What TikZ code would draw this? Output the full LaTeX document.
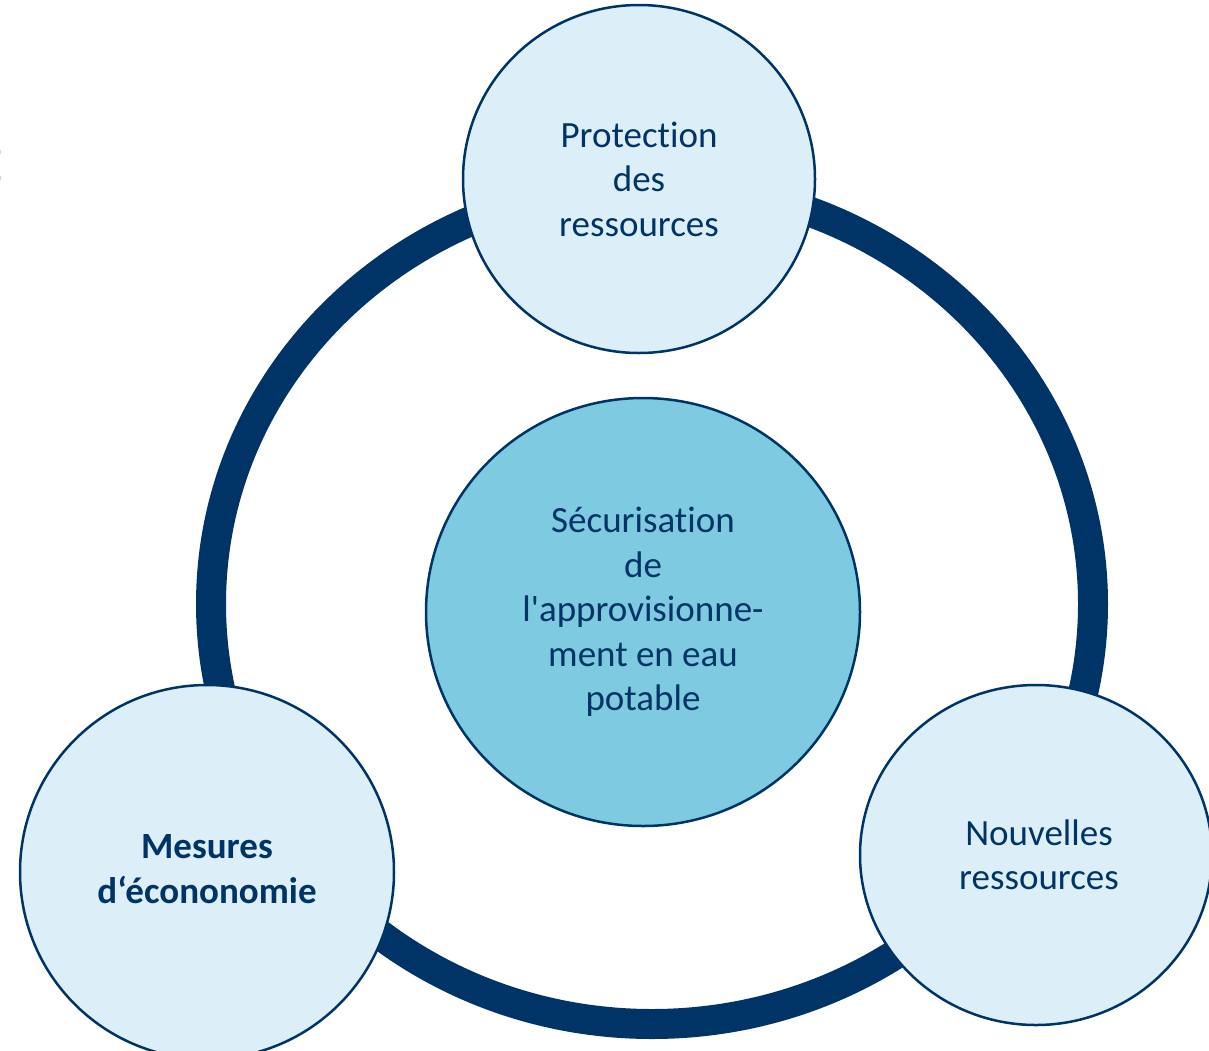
\documentclass[tikz,border=0pt]{standalone}
\usepackage{fontspec}
\setmainfont{Carlito}[Ligatures={TeXOff,NoCommon}]
\definecolor{navy}{HTML}{003466}
\definecolor{pale}{HTML}{DCEEF8}
\definecolor{midblue}{HTML}{7ECAE0}
\definecolor{speck}{HTML}{C4D8E8}
\begin{document}
\begin{tikzpicture}[x=1pt,y=-1pt,
  bubble/.style={draw=navy,line width=2.5pt,fill=pale},
  core/.style={draw=navy,line width=2.5pt,fill=midblue},
  lbl/.style={text=navy,font=\fontsize{37}{44.5}\selectfont,align=center,inner sep=0pt}]
\useasboundingbox (0,0) rectangle (1209,1050);
% ring
\draw[navy,line width=30pt] (652,604) ellipse [x radius=441, y radius=420];
% bubbles
\path[bubble] (639,179) ellipse [x radius=176, y radius=174];
\path[core] (643,612) ellipse [x radius=217, y radius=214];
\path[bubble] (207,872) ellipse [x radius=187, y radius=187];
\path[bubble] (1036,855) ellipse [x radius=176, y radius=170];
% specks at left edge
\fill[speck] (0,150) rectangle (1.2,154);
\fill[speck] (0,176) rectangle (1.2,180);
% labels
\node[lbl] (prot) at (639,179) {Protection\\des\\ressources};
\node[lbl] (secu) at (643,612) {Sécurisation\\de\\l'approvisionne-\\ment en eau\\potable};
\node[lbl,font=\fontsize{37}{44.5}\selectfont\bfseries] (mes) at (207,869) {Mesures\\d‘écononomie};
\node[lbl] (nouv) at (1039,855) {Nouvelles\\ressources};
\end{tikzpicture}
\end{document}
